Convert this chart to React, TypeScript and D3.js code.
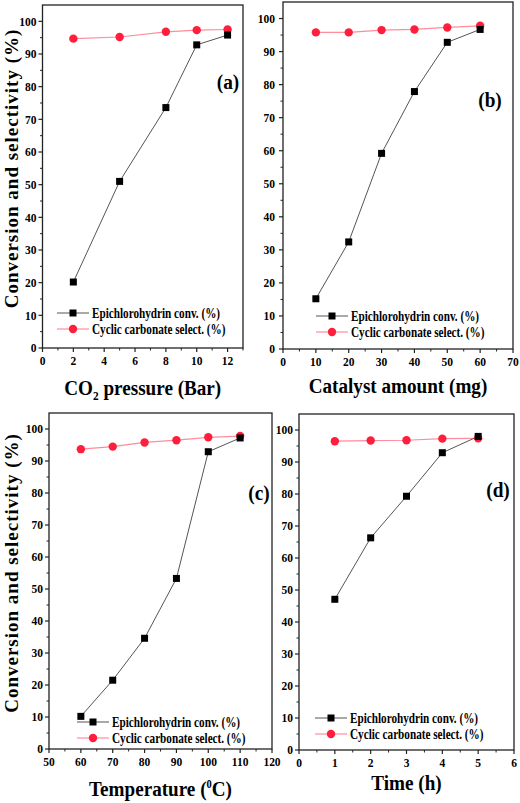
import React from "react";
import * as d3 from "d3";

const pressure = [2, 5, 8, 10, 12];
const pressureConv = [20.2, 51.0, 73.6, 92.8, 95.8];
const pressureSel = [94.7, 95.2, 96.8, 97.3, 97.5];

const catalyst = [10, 20, 30, 40, 50, 60];
const catalystConv = [15.2, 32.4, 59.2, 77.9, 92.8, 96.7];
const catalystSel = [95.8, 95.8, 96.5, 96.7, 97.3, 97.8];

const temperature = [60, 70, 80, 90, 100, 110];
const temperatureConv = [10.2, 21.5, 34.6, 53.3, 92.9, 97.2];
const temperatureSel = [93.7, 94.5, 95.8, 96.5, 97.4, 97.8];

const time = [1, 2, 3, 4, 5];
const timeConv = [47.1, 66.3, 79.3, 92.9, 98.0];
const timeSel = [96.5, 96.7, 96.8, 97.3, 97.4];

const yTicks = [0, 10, 20, 30, 40, 50, 60, 70, 80, 90, 100];
const yMinor = [5, 15, 25, 35, 45, 55, 65, 75, 85, 95];

const seriesNames = ["Epichlorohydrin conv. (%)", "Cyclic carbonate select. (%)"];

const FONT = "Liberation Serif";
const CONV_LINE = "#555";
const SEL_LINE = "#ff8c9c";
const SEL_DOT = "#ff1f3d";

function SText(props: {
  x: number;
  y: number;
  sx: number;
  fontSize: number;
  anchor?: string;
  dy?: string;
  children: React.ReactNode;
}) {
  return (
    <g transform={`translate(${props.x},${props.y}) scale(${props.sx},1)`}>
      <text x={0} y={0} dy={props.dy} textAnchor={props.anchor || "start"} fontSize={props.fontSize}>
        {props.children}
      </text>
    </g>
  );
}

type PanelProps = {
  box: [number, number, number, number];
  xDomain: [number, number];
  xTicks: number[];
  xMinor: number[];
  xs: number[];
  conv: number[];
  sel: number[];
  xLabel: React.ReactNode;
  xLabelY: number;
  yLabel?: boolean;
  yLabelX?: number;
  legend: { lineX: number; y: number };
  tag: string;
  tagPos: [number, number];
  yLabelOffset: number;
};

function Panel(p: PanelProps) {
  const [l, t, r, b] = p.box;
  const x = d3.scaleLinear().domain(p.xDomain).range([l, r]);
  const y = d3.scaleLinear().domain([0, 105]).range([b, t]);
  const line = d3
    .line<number>()
    .x((_, i) => x(p.xs[i]))
    .y((v) => y(v));
  const sq = 7;
  const lx0 = p.legend.lineX;
  const lx1 = lx0 + 32;
  const lm = (lx0 + lx1) / 2;
  const ly = p.legend.y;
  return (
    <g style={{ fontFamily: FONT, fontWeight: 700 }}>
      <rect x={l} y={t} width={r - l} height={b - t} fill="none" stroke="#222" strokeWidth={1.3} />
      {yTicks.map((v) => (
        <g key={"y" + v}>
          <line x1={l - 4} x2={l} y1={y(v)} y2={y(v)} stroke="#222" strokeWidth={1.2} />
          <SText x={l - p.yLabelOffset} y={y(v)} dy="0.35em" anchor="end" fontSize={12.5} sx={0.92}>
            {v}
          </SText>
        </g>
      ))}
      {yMinor.map((v) => (
        <line key={"ym" + v} x1={l - 2.5} x2={l} y1={y(v)} y2={y(v)} stroke="#222" strokeWidth={1} />
      ))}
      {p.xTicks.map((v) => (
        <g key={"x" + v}>
          <line x1={x(v)} x2={x(v)} y1={b} y2={b + 4} stroke="#222" strokeWidth={1.2} />
          <SText x={x(v)} y={b + 17} anchor="middle" fontSize={12.5} sx={0.92}>
            {v}
          </SText>
        </g>
      ))}
      {p.xMinor.map((v) => (
        <line key={"xm" + v} x1={x(v)} x2={x(v)} y1={b} y2={b + 2.5} stroke="#222" strokeWidth={1} />
      ))}
      <path d={line(p.sel) || ""} fill="none" stroke={SEL_LINE} strokeWidth={1.2} />
      <path d={line(p.conv) || ""} fill="none" stroke={CONV_LINE} strokeWidth={1} />
      {p.sel.map((v, i) => (
        <circle key={"c" + i} cx={x(p.xs[i])} cy={y(v)} r={4.2} fill={SEL_DOT} />
      ))}
      {p.conv.map((v, i) => (
        <rect key={"s" + i} x={x(p.xs[i]) - sq / 2} y={y(v) - sq / 2} width={sq} height={sq} fill="#000" />
      ))}
      <line x1={lx0} x2={lx1} y1={ly} y2={ly} stroke={CONV_LINE} strokeWidth={1} />
      <rect x={lm - sq / 2} y={ly - sq / 2} width={sq} height={sq} fill="#000" />
      <SText x={lx1 + 3} y={ly} dy="0.35em" fontSize={14} sx={0.8}>
        {seriesNames[0]}
      </SText>
      <line x1={lx0} x2={lx1} y1={ly + 16} y2={ly + 16} stroke={SEL_LINE} strokeWidth={1.2} />
      <circle cx={lm} cy={ly + 16} r={4.2} fill={SEL_DOT} />
      <SText x={lx1 + 3} y={ly + 16} dy="0.35em" fontSize={14} sx={0.8}>
        {seriesNames[1]}
      </SText>
      <SText x={p.tagPos[0]} y={p.tagPos[1]} dy="0.35em" anchor="middle" fontSize={21} sx={0.92}>
        {p.tag}
      </SText>
      <SText x={(l + r) / 2} y={p.xLabelY} anchor="middle" fontSize={22} sx={0.87}>
        {p.xLabel}
      </SText>
      {p.yLabel && (
        <text
          transform={`translate(${p.yLabelX},${(t + b) / 2 - 8}) rotate(-90)`}
          textAnchor="middle"
          fontSize={19}
          letterSpacing={1}
        >
          Conversion and selectivity (%)
        </text>
      )}
    </g>
  );
}

export default function App() {
  return (
    <svg
      width={520}
      height={803}
      style={{ position: "absolute", left: 0, top: 0, background: "#fff" }}
    >
      <Panel
        box={[42.5, 5, 243, 348]}
        xDomain={[0, 13]}
        xTicks={[0, 2, 4, 6, 8, 10, 12]}
        xMinor={[1, 3, 5, 7, 9, 11, 13]}
        xs={pressure}
        conv={pressureConv}
        sel={pressureSel}
        xLabel={
          <>
            CO<tspan fontSize={13} dy={5}>2</tspan>
            <tspan dy={-5}> pressure (Bar)</tspan>
          </>
        }
        xLabelY={395}
        yLabel
        yLabelX={18}
        legend={{ lineX: 57, y: 313 }}
        tag="(a)"
        tagPos={[228, 82]}
        yLabelOffset={6}
      />
      <Panel
        box={[283, 2, 513, 349]}
        xDomain={[0, 70]}
        xTicks={[0, 10, 20, 30, 40, 50, 60, 70]}
        xMinor={[5, 15, 25, 35, 45, 55, 65]}
        xs={catalyst}
        conv={catalystConv}
        sel={catalystSel}
        xLabel="Catalyst amount (mg)"
        xLabelY={393}
        legend={{ lineX: 316, y: 316 }}
        tag="(b)"
        tagPos={[490, 100]}
        yLabelOffset={8}
      />
      <Panel
        box={[49, 413, 272, 749]}
        xDomain={[50, 120]}
        xTicks={[50, 60, 70, 80, 90, 100, 110, 120]}
        xMinor={[55, 65, 75, 85, 95, 105, 115]}
        xs={temperature}
        conv={temperatureConv}
        sel={temperatureSel}
        xLabel={
          <>
            Temperature (<tspan fontSize={12} dy={-8}>0</tspan>
            <tspan dy={8}>C)</tspan>
          </>
        }
        xLabelY={796}
        yLabel
        yLabelX={18}
        legend={{ lineX: 77, y: 722 }}
        tag="(c)"
        tagPos={[259, 493]}
        yLabelOffset={6}
      />
      <Panel
        box={[299, 414, 514, 750]}
        xDomain={[0, 6]}
        xTicks={[0, 1, 2, 3, 4, 5, 6]}
        xMinor={[0.5, 1.5, 2.5, 3.5, 4.5, 5.5]}
        xs={time}
        conv={timeConv}
        sel={timeSel}
        xLabel="Time (h)"
        xLabelY={790}
        legend={{ lineX: 315, y: 718 }}
        tag="(d)"
        tagPos={[498, 490]}
        yLabelOffset={6}
      />
    </svg>
  );
}
